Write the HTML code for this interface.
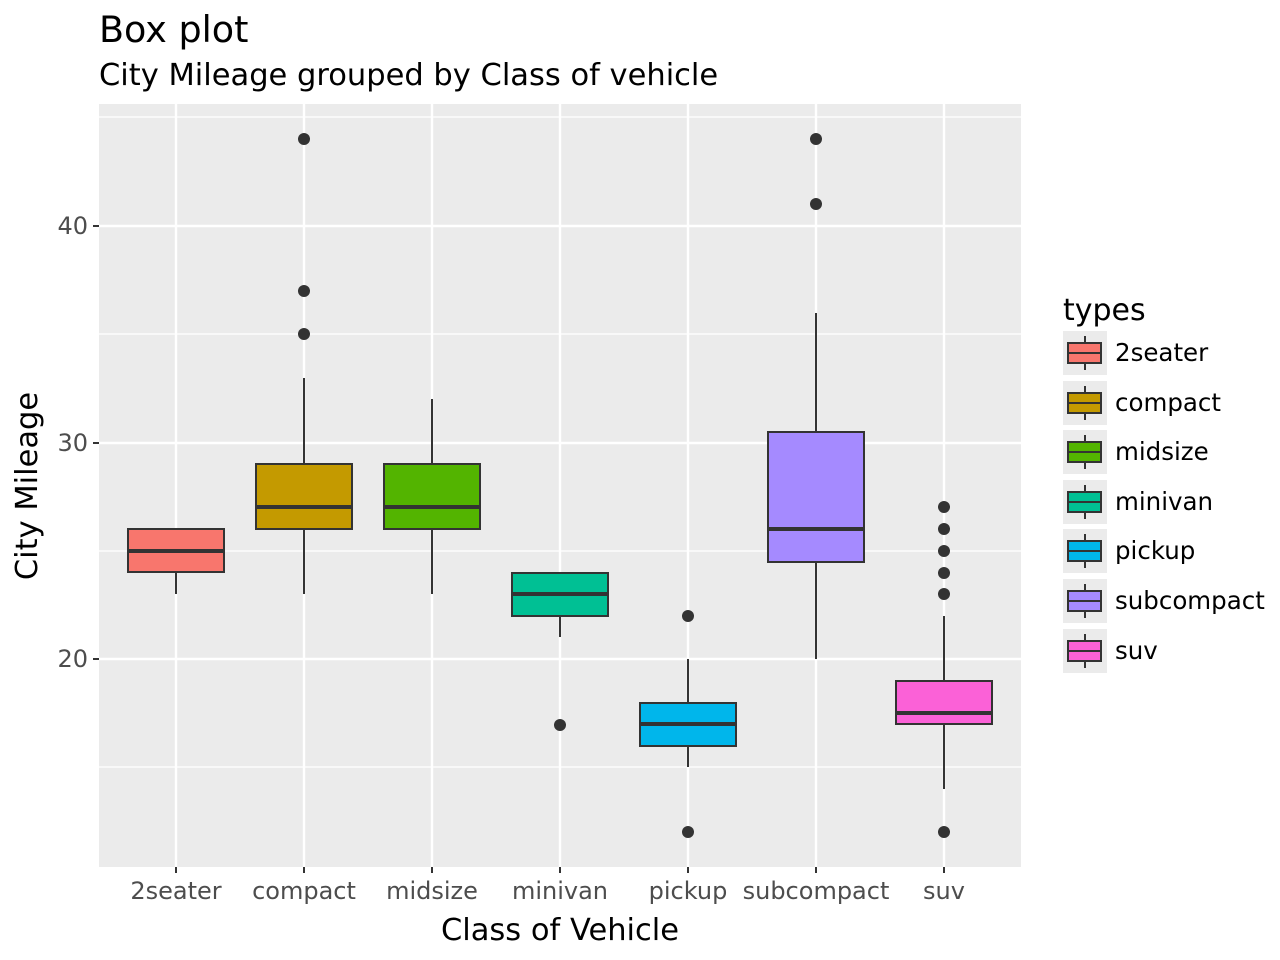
<!DOCTYPE html>
<html><head><meta charset="utf-8"><style>body{margin:0;background:#fff}svg{display:block}text{font-family:"DejaVu Sans","Liberation Sans",sans-serif}</style></head><body>
<svg width="1280" height="960" xmlns="http://www.w3.org/2000/svg">
<rect width="1280" height="960" fill="#fff"/>
<text x="99" y="42" font-size="36.5" fill="#000">Box plot</text>
<text x="99" y="85" font-size="30.5" fill="#000">City Mileage grouped by Class of vehicle</text>
<rect x="99" y="104" width="922" height="763" fill="#EBEBEB"/>
<g stroke="#fff" stroke-width="1.2">
<line x1="99" x2="1021" y1="117" y2="117"/><line x1="99" x2="1021" y1="334" y2="334"/><line x1="99" x2="1021" y1="551" y2="551"/><line x1="99" x2="1021" y1="767" y2="767"/>
</g>
<g stroke="#fff" stroke-width="2.4">
<line x1="99" x2="1021" y1="226" y2="226"/><line x1="99" x2="1021" y1="443" y2="443"/><line x1="99" x2="1021" y1="659" y2="659"/>
<line x1="176" x2="176" y1="104" y2="867"/><line x1="304" x2="304" y1="104" y2="867"/><line x1="432" x2="432" y1="104" y2="867"/><line x1="560" x2="560" y1="104" y2="867"/><line x1="688" x2="688" y1="104" y2="867"/><line x1="816" x2="816" y1="104" y2="867"/><line x1="944" x2="944" y1="104" y2="867"/>
</g>
<g stroke="#333" stroke-width="2">
<line x1="176" x2="176" y1="594" y2="572"/><rect x="128" y="529" width="96" height="43" fill="#F8766D"/><line x1="128" x2="224" y1="551" y2="551" stroke-width="4"/>
<line x1="304" x2="304" y1="594" y2="529"/><line x1="304" x2="304" y1="464" y2="378"/><rect x="256" y="464" width="96" height="65" fill="#C49A00"/><line x1="256" x2="352" y1="507" y2="507" stroke-width="4"/>
<line x1="432" x2="432" y1="594" y2="529"/><line x1="432" x2="432" y1="464" y2="399"/><rect x="384" y="464" width="96" height="65" fill="#53B400"/><line x1="384" x2="480" y1="507" y2="507" stroke-width="4"/>
<line x1="560" x2="560" y1="637" y2="616"/><rect x="512" y="573" width="96" height="43" fill="#00C094"/><line x1="512" x2="608" y1="594" y2="594" stroke-width="4"/>
<line x1="688" x2="688" y1="767" y2="746"/><line x1="688" x2="688" y1="703" y2="659"/><rect x="640" y="703" width="96" height="43" fill="#00B6EB"/><line x1="640" x2="736" y1="724" y2="724" stroke-width="4"/>
<line x1="816" x2="816" y1="659" y2="562"/><line x1="816" x2="816" y1="432" y2="313"/><rect x="768" y="432" width="96" height="130" fill="#A58AFF"/><line x1="768" x2="864" y1="529" y2="529" stroke-width="4"/>
<line x1="944" x2="944" y1="789" y2="724"/><line x1="944" x2="944" y1="681" y2="616"/><rect x="896" y="681" width="96" height="43" fill="#FB61D7"/><line x1="896" x2="992" y1="713" y2="713" stroke-width="4"/>
</g>
<g fill="#333">
<circle cx="304" cy="334" r="6"/><circle cx="304" cy="291" r="6"/><circle cx="304" cy="139" r="6"/>
<circle cx="560" cy="725" r="6"/>
<circle cx="688" cy="616" r="6"/><circle cx="688" cy="832" r="6"/>
<circle cx="816" cy="204" r="6"/><circle cx="816" cy="139" r="6"/>
<circle cx="944" cy="594" r="6"/><circle cx="944" cy="573" r="6"/><circle cx="944" cy="551" r="6"/><circle cx="944" cy="529" r="6"/><circle cx="944" cy="507" r="6"/><circle cx="944" cy="832" r="6"/>
</g>
<g stroke="#333" stroke-width="2"><line x1="93" x2="99" y1="226" y2="226"/><line x1="93" x2="99" y1="443" y2="443"/><line x1="93" x2="99" y1="659" y2="659"/>
<line x1="176" x2="176" y1="867" y2="873"/><line x1="304" x2="304" y1="867" y2="873"/><line x1="432" x2="432" y1="867" y2="873"/><line x1="560" x2="560" y1="867" y2="873"/><line x1="688" x2="688" y1="867" y2="873"/><line x1="816" x2="816" y1="867" y2="873"/><line x1="944" x2="944" y1="867" y2="873"/></g>
<g font-size="24" fill="#4D4D4D" text-anchor="end"><text x="88" y="234">40</text><text x="88" y="451">30</text><text x="88" y="667">20</text></g>
<g font-size="24" fill="#4D4D4D" text-anchor="middle"><text x="176" y="899">2seater</text><text x="304" y="899">compact</text><text x="432" y="899">midsize</text><text x="560" y="899">minivan</text><text x="688" y="899">pickup</text><text x="816" y="899">subcompact</text><text x="944" y="899">suv</text></g>
<text x="560" y="940" font-size="30.5" text-anchor="middle" fill="#000">Class of Vehicle</text>
<text transform="translate(37,486) rotate(-90)" font-size="30.5" text-anchor="middle" fill="#000">City Mileage</text>
<text x="1063" y="320" font-size="30" fill="#000">types</text>
<g stroke="#333" stroke-width="2">
<g transform="translate(0,331)"><rect x="1063" y="0" width="44" height="44" fill="#EBEBEB" stroke="none"/><line x1="1085" x2="1085" y1="5" y2="39"/><rect x="1068" y="12" width="33" height="20" fill="#F8766D"/><line x1="1068" x2="1101" y1="22" y2="22"/></g>
<g transform="translate(0,381)"><rect x="1063" y="0" width="44" height="44" fill="#EBEBEB" stroke="none"/><line x1="1085" x2="1085" y1="5" y2="39"/><rect x="1068" y="12" width="33" height="20" fill="#C49A00"/><line x1="1068" x2="1101" y1="22" y2="22"/></g>
<g transform="translate(0,430)"><rect x="1063" y="0" width="44" height="44" fill="#EBEBEB" stroke="none"/><line x1="1085" x2="1085" y1="5" y2="39"/><rect x="1068" y="12" width="33" height="20" fill="#53B400"/><line x1="1068" x2="1101" y1="22" y2="22"/></g>
<g transform="translate(0,480)"><rect x="1063" y="0" width="44" height="44" fill="#EBEBEB" stroke="none"/><line x1="1085" x2="1085" y1="5" y2="39"/><rect x="1068" y="12" width="33" height="20" fill="#00C094"/><line x1="1068" x2="1101" y1="22" y2="22"/></g>
<g transform="translate(0,529)"><rect x="1063" y="0" width="44" height="44" fill="#EBEBEB" stroke="none"/><line x1="1085" x2="1085" y1="5" y2="39"/><rect x="1068" y="12" width="33" height="20" fill="#00B6EB"/><line x1="1068" x2="1101" y1="22" y2="22"/></g>
<g transform="translate(0,579)"><rect x="1063" y="0" width="44" height="44" fill="#EBEBEB" stroke="none"/><line x1="1085" x2="1085" y1="5" y2="39"/><rect x="1068" y="12" width="33" height="20" fill="#A58AFF"/><line x1="1068" x2="1101" y1="22" y2="22"/></g>
<g transform="translate(0,629)"><rect x="1063" y="0" width="44" height="44" fill="#EBEBEB" stroke="none"/><line x1="1085" x2="1085" y1="5" y2="39"/><rect x="1068" y="12" width="33" height="20" fill="#FB61D7"/><line x1="1068" x2="1101" y1="22" y2="22"/></g>
</g>
<g font-size="24.5" fill="#000"><text x="1115" y="361">2seater</text><text x="1115" y="411">compact</text><text x="1115" y="460">midsize</text><text x="1115" y="510">minivan</text><text x="1115" y="559">pickup</text><text x="1115" y="609">subcompact</text><text x="1115" y="659">suv</text></g>
</svg>
</body></html>
